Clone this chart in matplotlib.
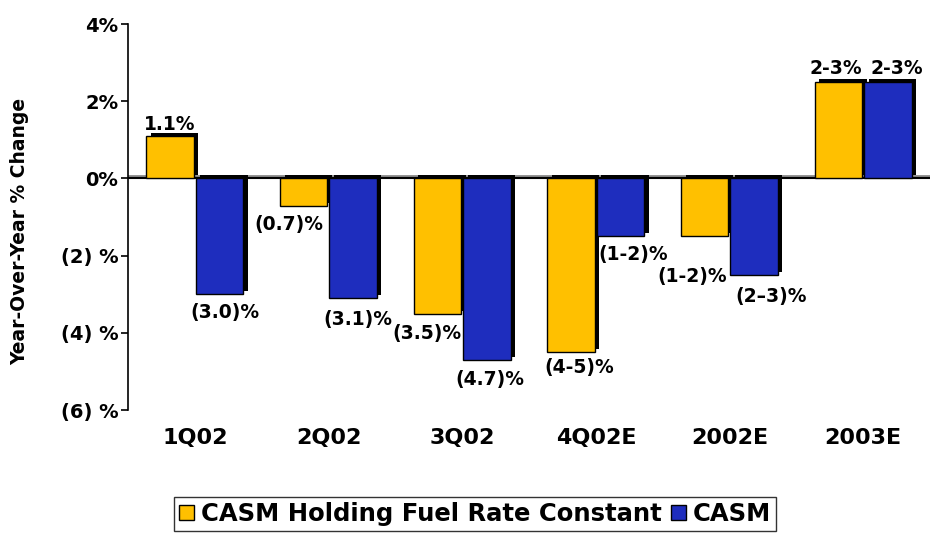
import matplotlib
matplotlib.use("Agg")
import matplotlib.pyplot as plt
import matplotlib.transforms as mtransforms
from matplotlib.patches import Patch
import numpy as np

categories = ["1Q02", "2Q02", "3Q02", "4Q02E", "2002E", "2003E"]
fuel_const = [1.1, -0.7, -3.5, -4.5, -1.5, 2.5]
casm = [-3.0, -3.1, -4.7, -1.5, -2.5, 2.5]
fuel_labels = ["1.1%", "(0.7)%", "(3.5)%", "(4-5)%", "(1-2)%", "2-3%"]
casm_labels = ["(3.0)%", "(3.1)%", "(4.7)%", "(1-2)%", "(2\u20133)%", "2-3%"]
yticks = [4, 2, 0, -2, -4, -6]
ytick_labels = ["4%", "2%", "0%", "(2) %", "(4) %", "(6) %"]
series_names = ["CASM Holding Fuel Rate Constant", "CASM"]

# label nudges in pixels (style only): horizontal, vertical gap
fuel_dx = [0, -15, -10, 8, -13, -3]
fuel_dy = [2, 9, 10, 6, 31, 4]
casm_dx = [5, 5, 3, 13, 17, 9]
casm_dy = [9, 12, 10, 9, 12, 4]

YELLOW = "#FFC000"
BLUE = "#1E2DBE"
FONT = "DejaVu Sans"
PX = 0.72  # points per pixel at 100 dpi

fig = plt.figure(figsize=(9.30, 5.36), dpi=100)
ax = fig.add_axes([0.1376, 0.235, 0.8624, 0.72])

x = np.arange(len(categories))
w = 0.355
off = 0.185

shadow = ax.transData + mtransforms.ScaledTranslation(0.045, 0.03, fig.dpi_scale_trans)
for vals, sign in ((fuel_const, -1), (casm, 1)):
    ax.bar(x + sign * off, vals, width=w, color="black", edgecolor="black",
           linewidth=0, transform=shadow, zorder=2)

ax.plot([0, 1], [0, 0], color="#8a8a8a", lw=2.0, zorder=1,
        transform=ax.get_yaxis_transform() + mtransforms.ScaledTranslation(0, 0.02, fig.dpi_scale_trans))
ax.axhline(0, color="black", lw=1.5, zorder=1.5)

b1 = ax.bar(x - off, fuel_const, width=w, color=YELLOW, edgecolor="black", linewidth=1.0, zorder=3)
b2 = ax.bar(x + off, casm, width=w, color=BLUE, edgecolor="black", linewidth=1.0, zorder=3)

def put_labels(bars, labels, dxs, dys):
    for rect, lab, dx, dy in zip(bars, labels, dxs, dys):
        h = rect.get_height()
        cx = rect.get_x() + rect.get_width() / 2
        if h >= 0:
            ax.annotate(lab, (cx, h), xytext=(dx * PX, dy * PX), textcoords="offset points",
                        ha="center", va="bottom", fontsize=13.5, fontweight="bold",
                        family=FONT, zorder=5)
        else:
            ax.annotate(lab, (cx, h), xytext=(dx * PX, -dy * PX), textcoords="offset points",
                        ha="center", va="top", fontsize=13.5, fontweight="bold",
                        family=FONT, zorder=5)

put_labels(b1, fuel_labels, fuel_dx, fuel_dy)
put_labels(b2, casm_labels, casm_dx, casm_dy)

ax.set_xlim(-0.5, 5.5)
ax.set_ylim(-6, 4)
ax.set_yticks(yticks)
ax.set_yticklabels(ytick_labels, fontsize=14, fontweight="bold", family=FONT)
ax.set_xticks(x)
ax.set_xticklabels(categories, fontsize=16, fontweight="bold", family=FONT)
ax.tick_params(axis="x", length=0, pad=13)
ax.tick_params(axis="y", direction="out", length=5, width=1.2, pad=2)
for s in ("top", "right", "bottom"):
    ax.spines[s].set_visible(False)
ax.spines["left"].set_linewidth(1.2)

fig.text(0.021, 0.569, "Year-Over-Year % Change", rotation=90, ha="center", va="center",
         fontsize=13.5, fontweight="bold", family=FONT)

handles = [Patch(facecolor=YELLOW, edgecolor="black", linewidth=1.0),
           Patch(facecolor=BLUE, edgecolor="black", linewidth=1.0)]
leg = fig.legend(handles, series_names, loc="center", bbox_to_anchor=(0.511, 0.041),
                 ncol=2, frameon=True, fancybox=False, edgecolor="black",
                 prop={"family": FONT, "weight": "bold", "size": 17.5},
                 handlelength=0.6, handleheight=0.6, handletextpad=0.3,
                 columnspacing=0.4, borderpad=0.2, borderaxespad=0)
leg.get_frame().set_linewidth(1.0)

fig.savefig("out.png", dpi=100)
